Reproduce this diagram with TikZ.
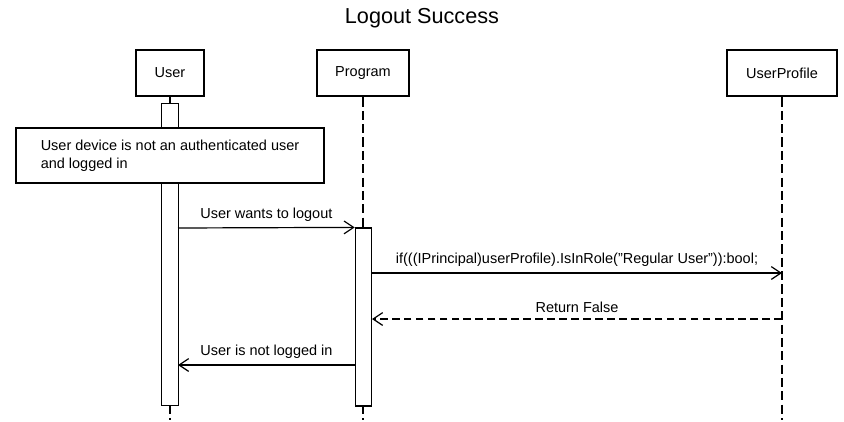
\documentclass[tikz,border=0pt]{standalone}
\usepackage{fontspec}
\setmainfont{Liberation Sans}
\usepackage{tikz}
\usetikzlibrary{positioning,arrows.meta,calc}
\tikzset{
  actor/.style={rectangle,draw=black,line width=2pt,fill=white,minimum height=1.15cm,inner sep=0pt},
  actbar/.style={rectangle,draw=black,line width=0.85pt,fill=white,minimum width=0.41cm,inner sep=0pt},
  notebox/.style={rectangle,draw=black,line width=0.85pt,fill=white,align=left,minimum width=7.7cm,minimum height=1.375cm,inner sep=0pt},
  lifeline/.style={line width=0.85pt,dash pattern=on 6.5pt off 3pt},
  msg/.style={-{Straight Barb[length=2.4mm,width=3.2mm]},line width=0.85pt},
  retmsg/.style={msg,dash pattern=on 5.5pt off 3pt},
  lbl/.style={above,inner sep=0pt,yshift=4pt}
}

\begin{document}
\begin{tikzpicture}[x=0.025cm,y=-0.025cm,font=\fontsize{10.3}{12.5}\selectfont]
  \useasboundingbox (0,0) rectangle (844,422);
  \node[font=\fontsize{15.4}{18}\selectfont] (title) at (422,18) {Logout Success};

  \node[actor,minimum width=1.7cm] (user) at (170,73) {User};
  \node[actor,minimum width=2.3cm] (program) at (363,73) {Program};
  \node[actor,minimum width=2.75cm] (userprofile) at (782,73) {UserProfile};

  \coordinate (userend) at (170,420);
  \coordinate (programend) at (363,420);
  \coordinate (userprofileend) at (782,420);
  \draw[lifeline] (user.south) -- (userend);
  \draw[lifeline] (program.south) -- (programend);
  \draw[lifeline] (userprofile.south) -- (userprofileend);

  \node[actbar,minimum height=7.55cm] (actuser) at (170,254.5) {};
  \node[actbar,minimum height=4.45cm] (actprog) at (363.5,317) {};

  \node[notebox] (note) at (170,155.5) {User device is not an authenticated user\\and logged in};

  \coordinate (ask) at (178,228);
  \coordinate (chkfrom) at (372,273);
  \coordinate (chkto) at (782,273);
  \coordinate (retfrom) at (782,319);
  \coordinate (retto) at (372,319);
  \coordinate (denyfrom) at (355,365);
  \coordinate (denyto) at (178,365);

  \draw[msg] (ask) -- node[lbl]{User wants to logout} (actprog.north west);
  \draw[msg] (chkfrom) -- node[lbl]{if(((IPrincipal)userProfile).IsInRole("Regular User")):bool;} (chkto);
  \draw[retmsg] (retfrom) -- node[lbl]{Return False} (retto);
  \draw[msg] (denyfrom) -- node[lbl]{User is not logged in} (denyto);
\end{tikzpicture}
\end{document}
